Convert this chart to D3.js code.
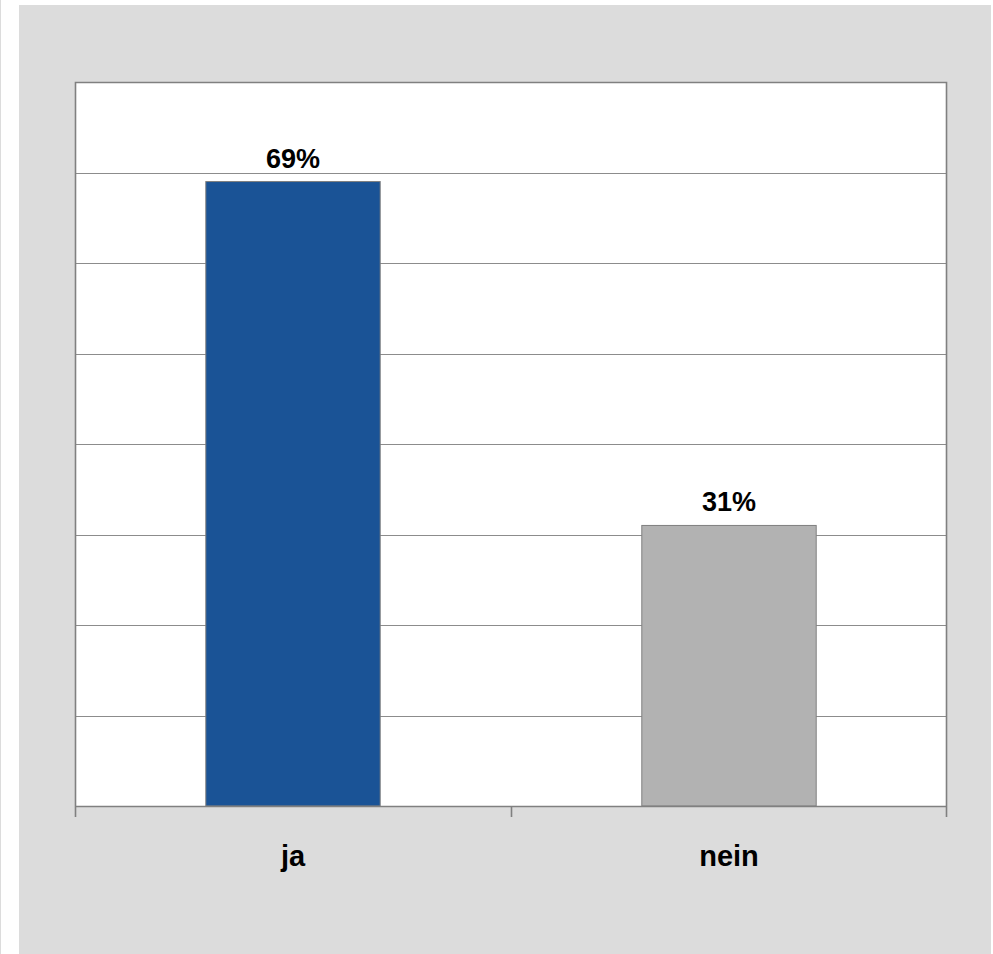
<!DOCTYPE html>
<html>
<head>
<meta charset="utf-8">
<script src="https://cdn.jsdelivr.net/npm/d3@7"></script>
<style>
  html, body { margin: 0; padding: 0; background: #ffffff; }
  svg { display: block; }
</style>
</head>
<body>
<script>
// ---- data ----
const categories = ["ja", "nein"];
const values = [69, 31];
const barColors = ["#1a5396", "#b2b2b2"];
const yTicks = [0, 10, 20, 30, 40, 50, 60, 70, 80];

const W = 993, H = 954;
const svg = d3.select("body").append("svg").attr("width", W).attr("height", H);

// outer frame
svg.append("line").attr("x1", 0.5).attr("x2", 0.5).attr("y1", 0).attr("y2", H)
  .attr("stroke", "#dcdcdc").attr("stroke-width", 1);
svg.append("rect").attr("x", 19).attr("y", 5).attr("width", 972).attr("height", H - 5)
  .attr("fill", "#dcdcdc");

const plot = { left: 75, right: 947, top: 82, bottom: 806 };

const x = d3.scaleBand().domain(categories).range([plot.left, plot.right])
  .paddingInner(0.6).paddingOuter(0.3);
const y = d3.scaleLinear().domain([0, 80]).range([plot.bottom, plot.top]);

// plot background
svg.append("rect").attr("x", plot.left).attr("y", plot.top)
  .attr("width", plot.right - plot.left).attr("height", plot.bottom - plot.top)
  .attr("fill", "#ffffff");

// gridlines
svg.append("g").selectAll("line").data(yTicks.filter(d => d > 0 && d < 80)).join("line")
  .attr("x1", plot.left).attr("x2", plot.right)
  .attr("y1", d => Math.round(y(d)) + 0.5).attr("y2", d => Math.round(y(d)) + 0.5)
  .attr("stroke", "#8c8c8c").attr("stroke-width", 1.2);

// plot border (top, left, right)
svg.append("path")
  .attr("d", `M${plot.left + 0.5},${plot.bottom} V${plot.top + 0.5} H${plot.right - 0.5} V${plot.bottom}`)
  .attr("fill", "none").attr("stroke", "#808080").attr("stroke-width", 1.6);

// bars
svg.append("g").selectAll("rect").data(categories).join("rect")
  .attr("x", d => x(d)).attr("y", (d, i) => y(values[i]))
  .attr("width", x.bandwidth()).attr("height", (d, i) => y(0) - y(values[i]))
  .attr("fill", (d, i) => barColors[i])
  .attr("stroke", "#7f7f7f").attr("stroke-width", 1);

// x axis
const xAxis = d3.axisBottom(x).tickSize(0).tickFormat(d => d).tickPadding(0);
const gx = svg.append("g").attr("transform", `translate(0,${plot.bottom})`);
gx.append("line").attr("x1", plot.left).attr("x2", plot.right).attr("y1", 0.5).attr("y2", 0.5)
  .attr("stroke", "#808080").attr("stroke-width", 1.6);
// tick marks at band boundaries
const bounds = [plot.left, (plot.left + plot.right) / 2, plot.right];
gx.selectAll("line.tk").data(bounds).join("line").attr("class", "tk")
  .attr("x1", (d, i) => i === 0 ? d + 0.5 : (i === 2 ? d - 0.5 : Math.round(d) + 0.5))
  .attr("x2", (d, i) => i === 0 ? d + 0.5 : (i === 2 ? d - 0.5 : Math.round(d) + 0.5))
  .attr("y1", 0).attr("y2", 11)
  .attr("stroke", "#808080").attr("stroke-width", 1.6);
const axG = gx.append("g").call(xAxis);
axG.select(".domain").remove();
axG.selectAll("text")
  .attr("dy", null).attr("y", 60)
  .attr("font-family", "Liberation Sans, Arial, sans-serif")
  .attr("font-weight", "bold").attr("font-size", 29).attr("fill", "#000");

// value labels
svg.append("g").selectAll("text").data(categories).join("text")
  .attr("x", d => x(d) + x.bandwidth() / 2)
  .attr("y", (d, i) => y(values[i]) - 14)
  .attr("text-anchor", "middle")
  .attr("font-family", "Liberation Sans, Arial, sans-serif")
  .attr("font-weight", "bold").attr("font-size", 27).attr("fill", "#000")
  .text((d, i) => values[i] + "%");
</script>
</body>
</html>
